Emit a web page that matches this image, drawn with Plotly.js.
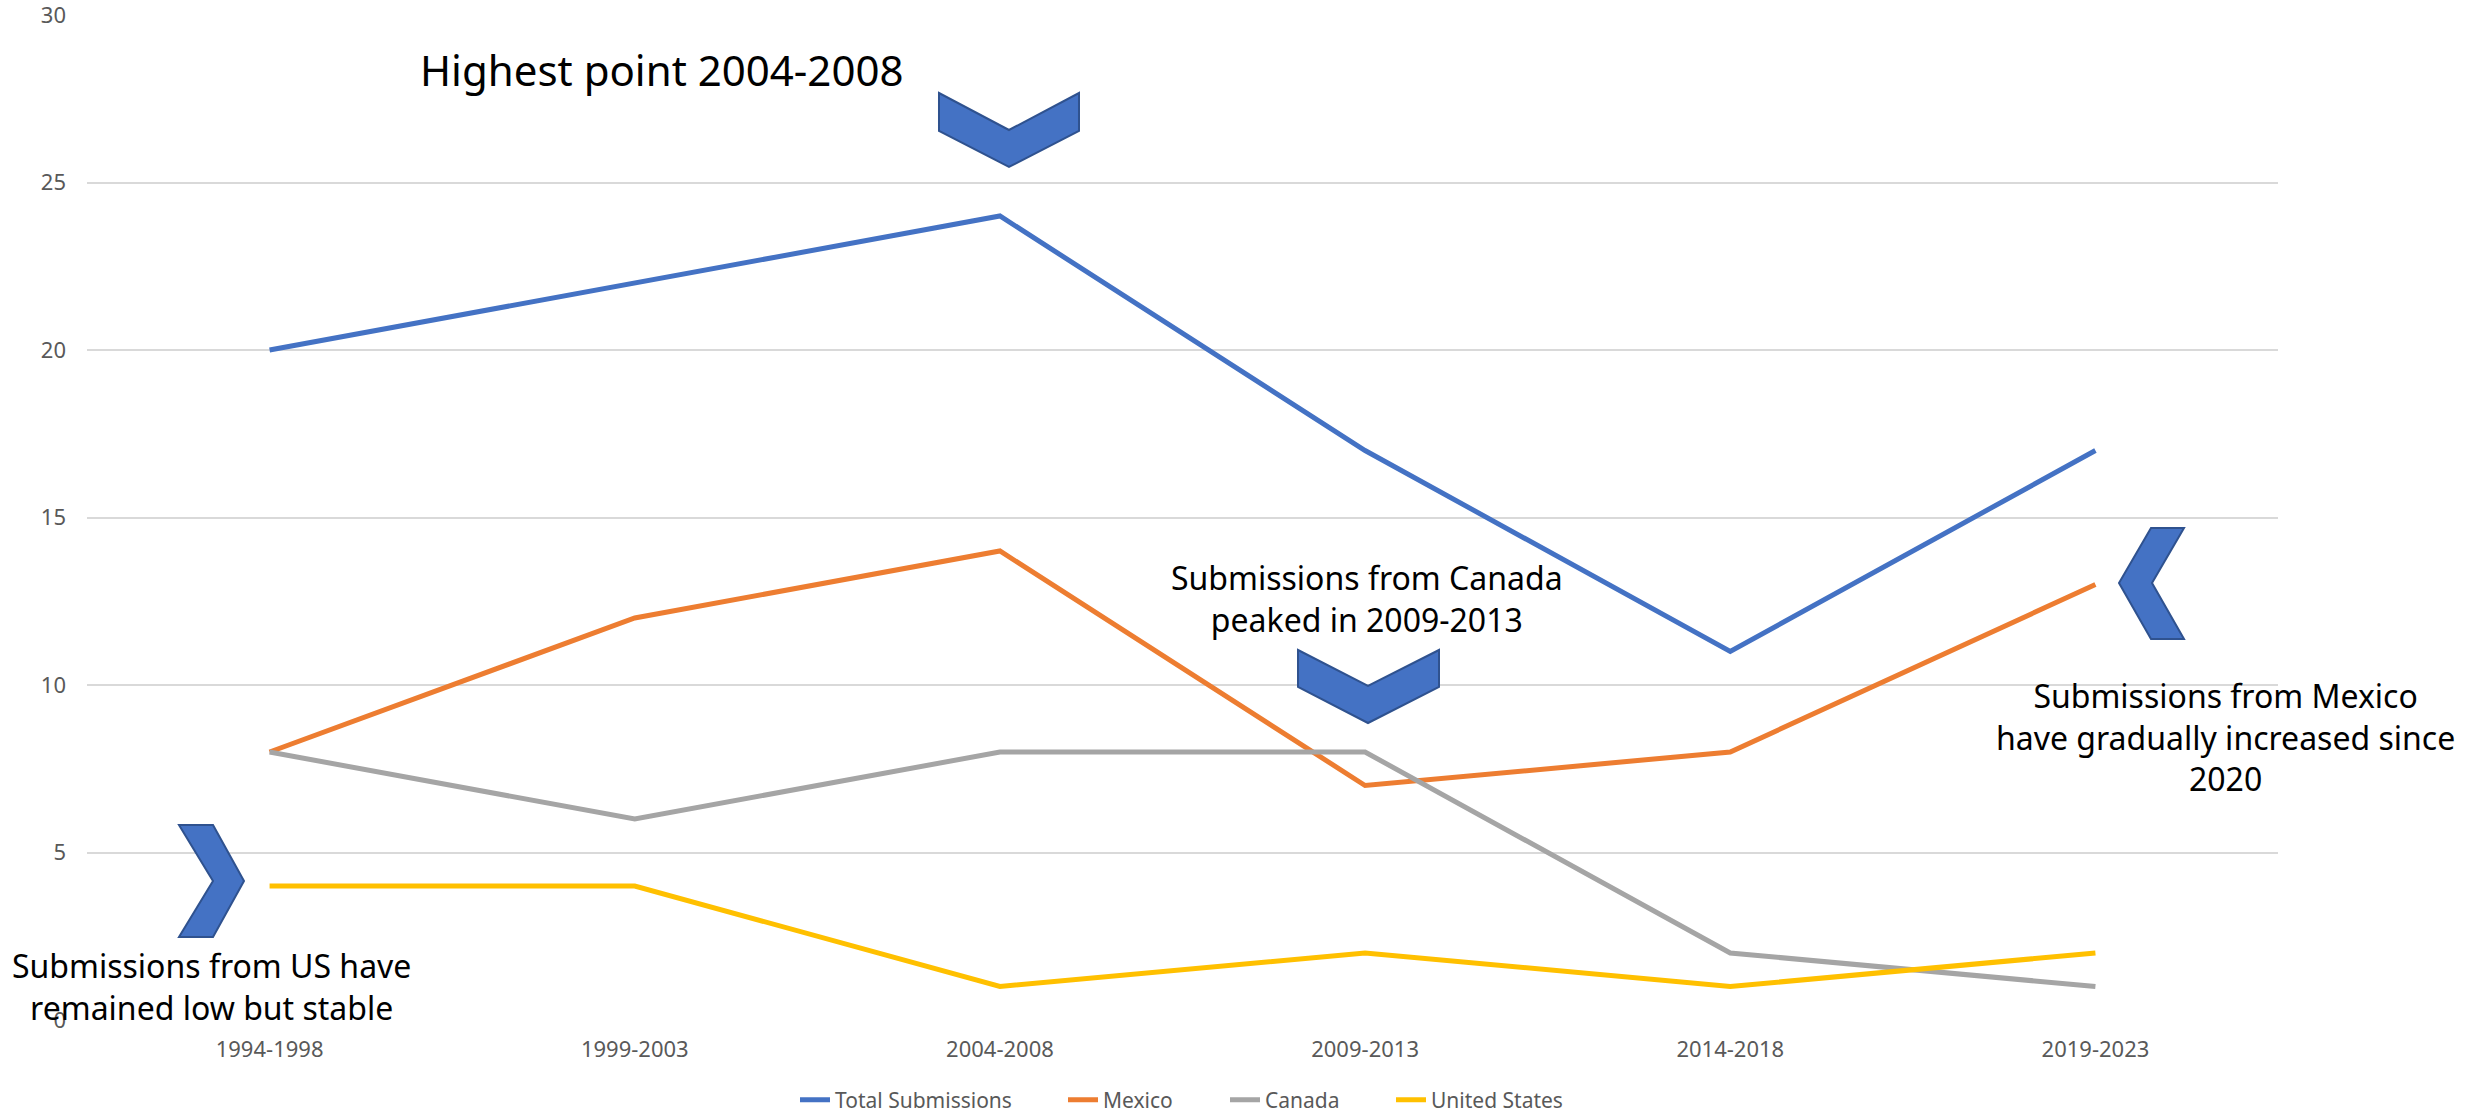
<!DOCTYPE html>
<html>
<head>
<meta charset="utf-8">
<script src="https://cdn.plot.ly/plotly-3.0.1.min.js"></script>
<style>html,body{margin:0;padding:0;background:#fff;}#chart{width:2469px;height:1116px;}</style>
</head>
<body>
<div id="chart"></div>
<script>
const categories = ["1994-1998","1999-2003","2004-2008","2009-2013","2014-2018","2019-2023"];
const totalSubmissions = [20, 22, 24, 17, 11, 17];
const mexico = [8, 12, 14, 7, 8, 13];
const canada = [8, 6, 8, 8, 2, 1];
const unitedStates = [4, 4, 1, 2, 1, 2];
const yTicks = [0, 5, 10, 15, 20, 25, 30];

const W = 2469, H = 1116;
const PL = 87, PR = 2278, PT = 15, PB = 1020;
const px = x => (x - PL) / (PR - PL);
const py = y => (PB - y) / (PB - PT);
function chevron(pts) {
  return pts.map((p, i) => (i ? 'L' : 'M') + px(p[0]).toFixed(5) + ',' + py(p[1]).toFixed(5)).join(' ') + ' Z';
}
const chevShapes = [
  [[939,93],[1009,130],[1079,93],[1079,131],[1009,167],[939,131]],
  [[1298,650],[1368,686],[1439,650],[1439,687],[1368,723],[1298,687]],
  [[2151,528],[2184,528],[2152,583],[2184,639],[2151,639],[2119,583]],
  [[179,825],[213,825],[244,881],[213,937],[179,937],[213,881]]
].map(pts => ({
  type: 'path', xref: 'paper', yref: 'paper', path: chevron(pts),
  fillcolor: '#4472C4', line: {color: '#2F528F', width: 2}, layer: 'above'
}));

const FONT = 'Noto Sans, Open Sans, sans-serif';
const legendIds = ['legend', 'legend2', 'legend3', 'legend4'];
const legendLeft = [795, 1063, 1225, 1391];
function mk(name, y, color, i) {
  return {type: 'scatter', mode: 'lines', name: name, x: categories, y: y, legend: legendIds[i],
    line: {color: color, width: 5}, hoverinfo: 'x+y+name'};
}
const data = [
  mk('Total Submissions', totalSubmissions, '#4472C4', 0),
  mk('Mexico', mexico, '#ED7D31', 1),
  mk('Canada', canada, '#A5A5A5', 2),
  mk('United States', unitedStates, '#FFC000', 3)
];
function ann(text, x, y, size) {
  return {xref: 'paper', yref: 'paper', x: px(x), y: py(y), xanchor: 'center', yanchor: 'middle',
    text: text, showarrow: false, align: 'center', font: {family: FONT, size: size, color: '#000'}};
}
const layout = {
  width: W, height: H,
  margin: {l: PL, r: W - PR, t: PT, b: H - PB, autoexpand: false},
  paper_bgcolor: '#fff', plot_bgcolor: '#fff',
  font: {family: FONT, size: 21, color: '#595959'},
  showlegend: true,
  xaxis: {type: 'category', range: [-0.5, 5.5], showgrid: false, zeroline: false, showline: false,
    ticks: '', tickfont: {family: FONT, size: 22, color: '#595959'}, ticklabelstandoff: 14, fixedrange: true},
  yaxis: {range: [0, 30.0001], autorange: false, tickmode: 'array', tickvals: yTicks, ticktext: yTicks.map(String),
    showgrid: true, gridcolor: '#D9D9D9', gridwidth: 2, ticklabeloverflow: 'allow',
    zeroline: false, showline: false, ticks: '', tickfont: {family: FONT, size: 22, color: '#595959'},
    ticklabelstandoff: 20, fixedrange: true},
  shapes: chevShapes,
  annotations: [
    ann('Highest point 2004-2008', 661, 70, 42),
    ann('Submissions from Canada<br>peaked in 2009-2013', 1367, 599, 32),
    ann('Submissions from Mexico<br>have gradually increased since<br>2020', 2225, 737, 32),
    ann('Submissions from US have<br>remained low but stable', 211, 986, 32)
  ]
};
legendIds.forEach((id, i) => {
  layout[id] = {orientation: 'h', x: px(legendLeft[i]), xanchor: 'left', y: py(1100), yanchor: 'middle',
    font: {family: FONT, size: 21, color: '#595959'}, bgcolor: 'rgba(0,0,0,0)', itemclick: false};
});
Plotly.newPlot('chart', data, layout, {displayModeBar: false, staticPlot: true});
</script>
</body>
</html>
